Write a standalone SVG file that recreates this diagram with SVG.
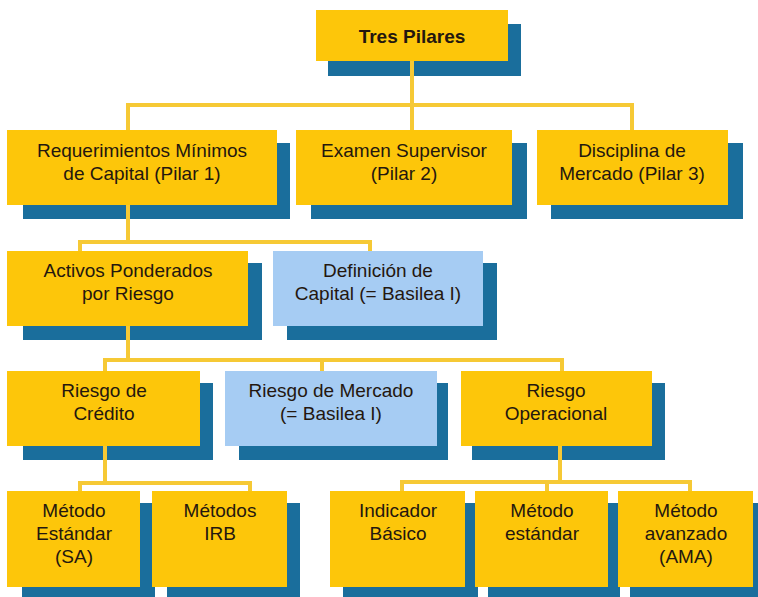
<svg xmlns="http://www.w3.org/2000/svg" width="758" height="597" viewBox="0 0 758 597">
<style>
.sh{fill:#1A6E9C}
.bx{fill:#FDC60A}
.lb{fill:#A6CCF3}
.t{font-family:"Liberation Sans",Arial,sans-serif;font-size:19px;fill:#24170F;text-anchor:middle}
.tb{font-weight:bold}
.cn{fill:none;stroke:#F6C935;stroke-width:4;stroke-linecap:butt}
</style>
<rect width="758" height="597" fill="#FFFFFF"/>
<g id="tres-pilares">
<rect class="sh" x="328" y="24" width="193" height="52"/>
<rect class="bx" x="316" y="10" width="192" height="51"/>
<text class="t tb" x="412" y="43">Tres Pilares</text>
</g>
<g id="pilar1">
<rect class="sh" x="23" y="143" width="267" height="76"/>
<rect class="bx" x="7" y="130" width="270" height="75"/>
<text class="t" x="142" y="157">Requerimientos Mínimos</text>
<text class="t" x="142" y="180">de Capital (Pilar 1)</text>
</g>
<g id="pilar2">
<rect class="sh" x="311" y="143" width="216" height="76"/>
<rect class="bx" x="296" y="130" width="216" height="75"/>
<text class="t" x="404" y="157">Examen Supervisor</text>
<text class="t" x="404" y="180">(Pilar 2)</text>
</g>
<g id="pilar3">
<rect class="sh" x="551" y="143" width="192" height="76"/>
<rect class="bx" x="537" y="130" width="191" height="75"/>
<text class="t" x="632" y="157">Disciplina de</text>
<text class="t" x="632" y="180">Mercado (Pilar 3)</text>
</g>
<g id="activos">
<rect class="sh" x="23" y="263" width="239" height="77"/>
<rect class="bx" x="7" y="251" width="241" height="75"/>
<text class="t" x="128" y="277">Activos Ponderados</text>
<text class="t" x="128" y="300">por Riesgo</text>
</g>
<g id="definicion">
<rect class="sh" x="287" y="263" width="210" height="77"/>
<rect class="lb" x="273" y="251" width="210" height="75"/>
<text class="t" x="378" y="277">Definición de</text>
<text class="t" x="378" y="300">Capital (= Basilea I)</text>
</g>
<g id="credito">
<rect class="sh" x="23" y="383" width="190" height="77"/>
<rect class="bx" x="7" y="371" width="193" height="75"/>
<text class="t" x="104" y="397">Riesgo de</text>
<text class="t" x="104" y="420">Crédito</text>
</g>
<g id="mercado">
<rect class="sh" x="239" y="383" width="209" height="77"/>
<rect class="lb" x="225" y="371" width="212" height="75"/>
<text class="t" x="331" y="397">Riesgo de Mercado</text>
<text class="t" x="331" y="420">(= Basilea I)</text>
</g>
<g id="operacional">
<rect class="sh" x="472" y="383" width="193" height="77"/>
<rect class="bx" x="461" y="371" width="191" height="75"/>
<text class="t" x="556" y="397">Riesgo</text>
<text class="t" x="556" y="420">Operacional</text>
</g>
<g id="estandar-sa">
<rect class="sh" x="22" y="503" width="133" height="97"/>
<rect class="bx" x="7" y="491" width="133" height="96"/>
<text class="t" x="74" y="517">Método</text>
<text class="t" x="74" y="540">Estándar</text>
<text class="t" x="74" y="563">(SA)</text>
</g>
<g id="irb">
<rect class="sh" x="167" y="503" width="133" height="97"/>
<rect class="bx" x="152" y="491" width="135" height="96"/>
<text class="t" x="220" y="517">Métodos</text>
<text class="t" x="220" y="540">IRB</text>
</g>
<g id="indicador">
<rect class="sh" x="343" y="503" width="135" height="97"/>
<rect class="bx" x="330" y="491" width="135" height="96"/>
<text class="t" x="398" y="517">Indicador</text>
<text class="t" x="398" y="540">Básico</text>
</g>
<g id="metodo-estandar">
<rect class="sh" x="488" y="503" width="132" height="97"/>
<rect class="bx" x="475" y="491" width="133" height="96"/>
<text class="t" x="542" y="517">Método</text>
<text class="t" x="542" y="540">estándar</text>
</g>
<g id="ama">
<rect class="sh" x="630" y="503" width="135" height="97"/>
<rect class="bx" x="618" y="491" width="135" height="96"/>
<text class="t" x="686" y="517">Método</text>
<text class="t" x="686" y="540">avanzado</text>
<text class="t" x="686" y="563">(AMA)</text>
</g>
<g id="connectors">
<path class="cn" d="M412 61V105M128 130V105H632V130M412 105V130"/>
<path class="cn" d="M128 205V242M80 251V242H370V251"/>
<path class="cn" d="M128 326V360M105 371V360H562V371M322 360V371"/>
<path class="cn" d="M105 446V483M80 491V483H250V491"/>
<path class="cn" d="M560 446V482M402 491V482H690V491M547 482V491"/>
</g>
</svg>
